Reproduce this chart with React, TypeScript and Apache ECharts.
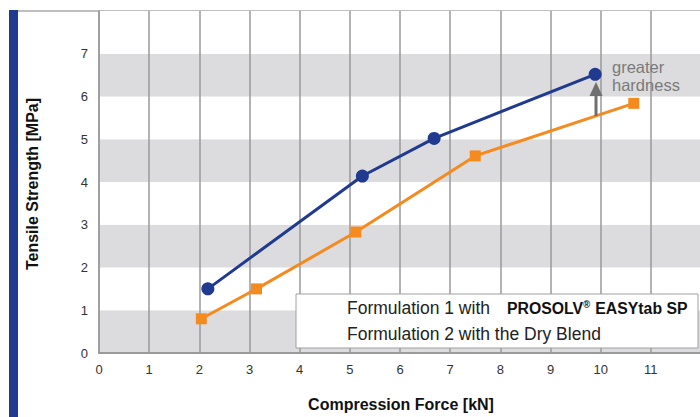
import React, { useEffect, useRef } from "react";
import * as echarts from "echarts";

const xTicks = [0, 1, 2, 3, 4, 5, 6, 7, 8, 9, 10, 11];
const series1Name = "Formulation 1 with PROSOLV® EASYtab SP";
const series2Name = "Formulation 2 with the Dry Blend";
const series1X = [2.17, 5.25, 6.68, 9.89];
const series1Y = [1.5, 4.14, 5.02, 6.52];
const series2X = [2.04, 3.14, 5.12, 7.5, 10.66];
const series2Y = [0.8, 1.5, 2.83, 4.61, 5.84];
const yAxisTitle = "Tensile Strength [MPa]";
const xAxisTitle = "Compression Force [kN]";
const annotationLines = ["greater", "hardness"];

export default function App() {
  const ref = useRef<HTMLDivElement>(null);
  useEffect(() => {
    if (!ref.current) return;
    const chart = echarts.init(ref.current, null, { renderer: "svg" });
    const blue = "#1f3a8f";
    const orange = "#f58a1f";
    const font = "'Liberation Sans', Arial, sans-serif";
    chart.setOption({
      animation: false,
      backgroundColor: "#ffffff",
      grid: { left: 99, top: 11, width: 602, height: 342, containLabel: false, outerBoundsMode: "none" },
      xAxis: {
        type: "value",
        min: 0,
        max: 12,
        interval: 1,
        axisLine: { show: true, lineStyle: { color: "#9a9a9a", width: 2 } },
        axisTick: { show: false },
        splitLine: { show: true, lineStyle: { color: "#9a9a9a", width: 1.5 } },
        axisLabel: {
          color: "#333",
          fontFamily: font,
          fontSize: 13,
          margin: 10,
          formatter: (v: number) => (xTicks.includes(v) ? String(v) : ""),
        },
      },
      yAxis: {
        type: "value",
        min: 0,
        max: 8,
        interval: 1,
        axisLine: { show: true, lineStyle: { color: "#9a9a9a", width: 1.5 } },
        axisTick: { show: false },
        splitLine: { show: false },
        splitArea: { show: true, areaStyle: { color: ["#dcdcde", "#ffffff"] } },
        axisLabel: {
          color: "#333",
          fontFamily: font,
          fontSize: 13,
          margin: 11,
          formatter: (v: number) => (v === 8 ? "" : String(v)),
        },
      },
      series: [
        {
          name: series1Name,
          type: "line",
          data: series1X.map((x, i) => [x, series1Y[i]]),
          symbol: "circle",
          symbolSize: 13,
          z: 4,
          lineStyle: { color: blue, width: 3 },
          itemStyle: { color: blue },
        },
        {
          name: series2Name,
          type: "line",
          data: series2X.map((x, i) => [x, series2Y[i]]),
          symbol: "rect",
          symbolSize: 11,
          z: 3,
          lineStyle: { color: orange, width: 3 },
          itemStyle: { color: orange },
        },
      ],
      graphic: [
        { type: "rect", shape: { x: 9, y: 10, width: 9, height: 407 }, style: { fill: "#1f3a8f" } },
        { type: "line", shape: { x1: 18, y1: 11, x2: 700, y2: 11 }, style: { stroke: "#a8a8a8", lineWidth: 1.5 } },
        {
          type: "text",
          x: 32,
          y: 184,
          rotation: Math.PI / 2,
          style: {
            text: yAxisTitle,
            fill: "#111",
            font: `bold 16px ${font}`,
            align: "center",
            verticalAlign: "middle",
          },
        },
        {
          type: "text",
          x: 401,
          y: 404,
          style: {
            text: xAxisTitle,
            fill: "#111",
            font: `bold 16px ${font}`,
            align: "center",
            verticalAlign: "middle",
          },
        },
        // arrow
        { type: "line", z: 10, shape: { x1: 596, y1: 116, x2: 596, y2: 94 }, style: { stroke: "#6f6f6f", lineWidth: 3 } },
        { type: "polygon", z: 10, shape: { points: [[596, 82], [589.5, 96], [602.5, 96]] }, style: { fill: "#6f6f6f" } },
        {
          type: "text",
          x: 612,
          y: 67,
          z: 10,
          style: { text: annotationLines[0], fill: "#7a7a7a", font: `16.5px ${font}`, align: "left", verticalAlign: "middle" },
        },
        {
          type: "text",
          x: 612,
          y: 85,
          z: 10,
          style: { text: annotationLines[1], fill: "#7a7a7a", font: `16.5px ${font}`, align: "left", verticalAlign: "middle" },
        },
        // legend box
        {
          type: "rect",
          z: 20,
          shape: { x: 296, y: 294, width: 402, height: 54 },
          style: { fill: "#ffffff", stroke: "#a0a0a0", lineWidth: 1 },
        },
        {
          type: "text",
          z: 21,
          x: 347,
          y: 308,
          style: { text: "Formulation 1 with", font: `17.5px ${font}`, fill: "#222", verticalAlign: "middle" },
        },
        {
          type: "text",
          z: 21,
          x: 507,
          y: 308,
          scaleX: 0.93,
          style: {
            text: "{b|PROSOLV}{s|®}{b| EASYtab SP}",
            verticalAlign: "middle",
            rich: {
              b: { font: `bold 17px ${font}`, fill: "#111" },
              s: { font: `bold 10px ${font}`, fill: "#111", verticalAlign: "top", padding: [0, 1, 6, 0] },
            },
          },
        },
        {
          type: "text",
          z: 21,
          x: 347,
          y: 334,
          style: { text: series2Name, font: `17.5px ${font}`, fill: "#222", verticalAlign: "middle" },
        },
      ],
    });
    return () => chart.dispose();
  }, []);
  return <div ref={ref} style={{ width: 700, height: 417, position: "fixed", left: 0, top: 0 }} />;
}
